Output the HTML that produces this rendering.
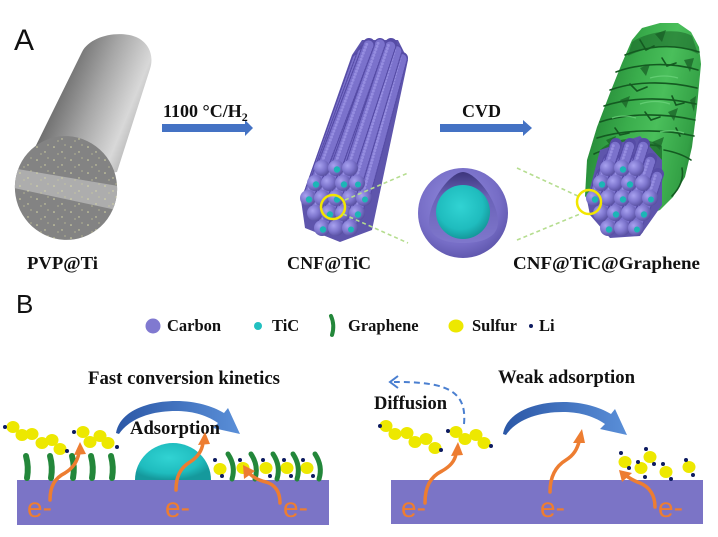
<!DOCTYPE html>
<html><head><meta charset="utf-8"><style>
html,body{margin:0;padding:0;background:#fff;}
svg{display:block;}
.t{font-family:"Liberation Serif",serif;font-weight:bold;fill:#111;}
.o{stroke:#564ca6;stroke-width:12;stroke-linecap:round;}
.d{stroke:#7b72cc;stroke-width:10;stroke-linecap:round;stroke-dasharray:0 3.2;}
.h{stroke:#958de0;stroke-width:3;stroke-linecap:round;stroke-dasharray:0 3.2;transform:translate(-1.8px,-1px);}
.e{font-family:"Liberation Sans",sans-serif;font-size:28px;fill:#ED7D31;}
.oa{fill:none;stroke:#ED7D31;stroke-width:3.5;stroke-linecap:round;}
.gs{fill:none;stroke:#23873a;stroke-width:6;stroke-linecap:round;}
.gr{fill:none;stroke:#23873a;stroke-width:5;stroke-linecap:round;}
.fl{fill:none;stroke:#145a21;stroke-width:1.6;stroke-linecap:round;}
</style></head><body>
<svg width="718" height="537" viewBox="0 0 718 537" xmlns="http://www.w3.org/2000/svg">
<defs>
<linearGradient id="gc" gradientUnits="userSpaceOnUse" x1="40" y1="105" x2="138" y2="145">
<stop offset="0" stop-color="#5e5e5e"/><stop offset="0.45" stop-color="#a6a6a6"/><stop offset="0.8" stop-color="#d8d8d8"/><stop offset="1" stop-color="#aaaaaa"/></linearGradient>
<clipPath id="ef"><ellipse cx="66" cy="188" rx="51" ry="52" transform="rotate(-20 66 188)"/></clipPath>
<pattern id="sp" width="17" height="13" patternUnits="userSpaceOnUse">
<circle cx="3" cy="4" r="0.8" fill="#d9d9a6"/><circle cx="11" cy="9" r="0.7" fill="#d9d9a6"/><circle cx="14" cy="2" r="0.6" fill="#cfcf9a"/><circle cx="7" cy="11" r="0.6" fill="#cfcf9a"/></pattern>
<radialGradient id="ps" cx="0.35" cy="0.35" r="0.7"><stop offset="0" stop-color="#a8a2f0"/><stop offset="0.55" stop-color="#7e76ce"/><stop offset="1" stop-color="#574fa0"/></radialGradient>
<radialGradient id="big" cx="0.45" cy="0.4" r="0.65"><stop offset="0" stop-color="#948de0"/><stop offset="0.7" stop-color="#766dc6"/><stop offset="1" stop-color="#5a52a8"/></radialGradient>
<radialGradient id="tl" cx="0.45" cy="0.4" r="0.6"><stop offset="0" stop-color="#31d3d3"/><stop offset="0.7" stop-color="#1fbcbe"/><stop offset="1" stop-color="#15999c"/></radialGradient>
<linearGradient id="cut" x1="0" y1="0" x2="0" y2="1"><stop offset="0" stop-color="#3d367c"/><stop offset="0.35" stop-color="#6a62b8"/><stop offset="1" stop-color="#7f77cc"/></linearGradient>
<linearGradient id="gg" gradientUnits="userSpaceOnUse" x1="588" y1="110" x2="702" y2="135">
<stop offset="0" stop-color="#238535"/><stop offset="0.35" stop-color="#3aad4c"/><stop offset="0.6" stop-color="#4abf5b"/><stop offset="0.9" stop-color="#33a045"/><stop offset="1" stop-color="#268034"/></linearGradient>
<linearGradient id="ba" x1="0" y1="0" x2="1" y2="0"><stop offset="0" stop-color="#2b57a6"/><stop offset="1" stop-color="#5a8fd8"/></linearGradient>
</defs>
<rect width="718" height="537" fill="#fff"/>

<!-- A -->
<text x="14" y="50" font-family="Liberation Sans, sans-serif" font-size="30" fill="#111">A</text>

<!-- Grey cylinder -->
<path d="M16,186 L82,52 C90,36 118,30 136,37 C150,43 154,57 150,69 L117,172 Z" fill="url(#gc)"/>
<g clip-path="url(#ef)">
<rect x="10" y="130" width="115" height="115" fill="#838383"/>
<polygon points="0,166 130,188 130,213 0,185" fill="#adadad"/>
<rect x="10" y="130" width="115" height="115" fill="url(#sp)"/>
</g>

<!-- top arrows -->
<rect x="162" y="124" width="84" height="8" fill="#4472c4"/>
<polygon points="245,120 253,128 245,136" fill="#4472c4"/>
<text class="t" x="163" y="117" font-size="18">1100 °C/H<tspan font-size="12" dy="4">2</tspan></text>
<rect x="440" y="124" width="84" height="8" fill="#4472c4"/>
<polygon points="523,120 532,128 523,136" fill="#4472c4"/>
<text class="t" x="462" y="117" font-size="18">CVD</text>

<!-- CNF bundle base -->
<polygon points="301,200 352,55 362,40 398,40 408,60 372,230 340,242 305,228" fill="#5e55ac"/>
<!-- CNF bundle bodies -->
<g>
<line class="o" x1="350" y1="228" x2="391" y2="72"/><line class="d" x1="350" y1="228" x2="391" y2="72"/><line class="h" x1="350" y1="228" x2="391" y2="72"/>
<line class="o" x1="336" y1="228" x2="380" y2="72"/><line class="d" x1="336" y1="228" x2="380" y2="72"/><line class="h" x1="336" y1="228" x2="380" y2="72"/>
<line class="o" x1="322" y1="228" x2="369" y2="72"/><line class="d" x1="322" y1="228" x2="369" y2="72"/><line class="h" x1="322" y1="228" x2="369" y2="72"/>
<line class="o" x1="357" y1="213" x2="396.5" y2="65"/><line class="d" x1="357" y1="213" x2="396.5" y2="65"/><line class="h" x1="357" y1="213" x2="396.5" y2="65"/>
<line class="o" x1="343" y1="213" x2="385.5" y2="65"/><line class="d" x1="343" y1="213" x2="385.5" y2="65"/><line class="h" x1="343" y1="213" x2="385.5" y2="65"/>
<line class="o" x1="329" y1="213" x2="374.5" y2="65"/><line class="d" x1="329" y1="213" x2="374.5" y2="65"/><line class="h" x1="329" y1="213" x2="374.5" y2="65"/>
<line class="o" x1="315" y1="213" x2="363.5" y2="65"/><line class="d" x1="315" y1="213" x2="363.5" y2="65"/><line class="h" x1="315" y1="213" x2="363.5" y2="65"/>
<line class="o" x1="364" y1="198" x2="402" y2="58"/><line class="d" x1="364" y1="198" x2="402" y2="58"/><line class="h" x1="364" y1="198" x2="402" y2="58"/>
<line class="o" x1="350" y1="198" x2="391" y2="58"/><line class="d" x1="350" y1="198" x2="391" y2="58"/><line class="h" x1="350" y1="198" x2="391" y2="58"/>
<line class="o" x1="336" y1="198" x2="380" y2="58"/><line class="d" x1="336" y1="198" x2="380" y2="58"/><line class="h" x1="336" y1="198" x2="380" y2="58"/>
<line class="o" x1="322" y1="198" x2="369" y2="58"/><line class="d" x1="322" y1="198" x2="369" y2="58"/><line class="h" x1="322" y1="198" x2="369" y2="58"/>
<line class="o" x1="308" y1="198" x2="358" y2="58"/><line class="d" x1="308" y1="198" x2="358" y2="58"/><line class="h" x1="308" y1="198" x2="358" y2="58"/>
<line class="o" x1="357" y1="183" x2="396.5" y2="51"/><line class="d" x1="357" y1="183" x2="396.5" y2="51"/><line class="h" x1="357" y1="183" x2="396.5" y2="51"/>
<line class="o" x1="343" y1="183" x2="385.5" y2="51"/><line class="d" x1="343" y1="183" x2="385.5" y2="51"/><line class="h" x1="343" y1="183" x2="385.5" y2="51"/>
<line class="o" x1="329" y1="183" x2="374.5" y2="51"/><line class="d" x1="329" y1="183" x2="374.5" y2="51"/><line class="h" x1="329" y1="183" x2="374.5" y2="51"/>
<line class="o" x1="315" y1="183" x2="363.5" y2="51"/><line class="d" x1="315" y1="183" x2="363.5" y2="51"/><line class="h" x1="315" y1="183" x2="363.5" y2="51"/>
<line class="o" x1="350" y1="168" x2="391" y2="44"/><line class="d" x1="350" y1="168" x2="391" y2="44"/><line class="h" x1="350" y1="168" x2="391" y2="44"/>
<line class="o" x1="336" y1="168" x2="380" y2="44"/><line class="d" x1="336" y1="168" x2="380" y2="44"/><line class="h" x1="336" y1="168" x2="380" y2="44"/>
<line class="o" x1="322" y1="168" x2="369" y2="44"/><line class="d" x1="322" y1="168" x2="369" y2="44"/><line class="h" x1="322" y1="168" x2="369" y2="44"/>
</g>
<!-- CNF end spheres -->
<g fill="url(#ps)">
<circle cx="322" cy="168" r="8"/><circle cx="336" cy="168" r="8"/><circle cx="350" cy="168" r="8"/>
<circle cx="315" cy="183" r="8"/><circle cx="329" cy="183" r="8"/><circle cx="343" cy="183" r="8"/><circle cx="357" cy="183" r="8"/>
<circle cx="308" cy="198" r="8"/><circle cx="322" cy="198" r="8"/><circle cx="336" cy="198" r="8"/><circle cx="350" cy="198" r="8"/><circle cx="364" cy="198" r="8"/>
<circle cx="315" cy="213" r="8"/><circle cx="329" cy="213" r="8"/><circle cx="343" cy="213" r="8"/><circle cx="357" cy="213" r="8"/>
<circle cx="322" cy="228" r="8"/><circle cx="336" cy="228" r="8"/><circle cx="350" cy="228" r="8"/>
</g>
<g fill="#1cb5b6">
<circle cx="337" cy="169.5" r="3.2"/><circle cx="316" cy="184.5" r="3.2"/><circle cx="344" cy="184.5" r="3.2"/><circle cx="358" cy="184.5" r="3"/>
<circle cx="309" cy="199.5" r="3.2"/><circle cx="337" cy="199.5" r="3.2"/><circle cx="365" cy="199.5" r="3"/>
<circle cx="330" cy="214.5" r="3.2"/><circle cx="358" cy="214.5" r="3.2"/><circle cx="323" cy="229.5" r="3.2"/><circle cx="351" cy="229.5" r="3"/>
</g>
<circle cx="333" cy="207" r="12" fill="none" stroke="#f2e600" stroke-width="2.5"/>

<!-- green dashed zoom lines -->
<g stroke="#b5dd8f" stroke-width="1.6" stroke-dasharray="4 3" fill="none">
<line x1="345" y1="200" x2="408" y2="173"/><line x1="343" y1="214" x2="408" y2="243"/>
<line x1="517" y1="168" x2="580" y2="197"/><line x1="517" y1="240" x2="580" y2="214"/>
</g>

<!-- Cross-section sphere -->
<circle cx="463" cy="213" r="45" fill="url(#big)"/>
<path d="M463,172 C475,172 498,200 498,222 C498,238 481,243 463,243 C445,243 429,238 429,222 C429,200 451,172 463,172 Z" fill="url(#cut)"/>
<circle cx="463" cy="212" r="27" fill="url(#tl)"/>

<!-- Graphene cylinder -->
<path d="M585,196 L587,160 L597,127 L610,93 L622,63 L632,40 L642,28 L660,23 L678,23 L691,32 L699,47 L701,64 L697,107 L692,147 L685,177 L673,197 L660,210 L640,218 L600,218 Z" fill="url(#gg)"/>
<path d="M632,42 C650,30 680,28 692,36 L698,54 C680,44 652,44 628,56 Z" fill="#1a6428" opacity="0.55"/>
<g class="fl">
<path d="M625,55 C650,45 675,44 699,52"/><path d="M616,72 C640,63 672,62 698,70"/><path d="M610,90 C632,82 664,80 697,88"/>
<path d="M604,106 C628,98 662,96 696,104"/><path d="M600,122 C624,114 660,112 695,120"/><path d="M597,138 C622,130 660,128 694,136"/>
<path d="M594,154 C610,146 640,143 660,146"/><path d="M664,150 C675,152 685,156 691,160"/>
<path d="M640,40 l6,10 l8,-4"/><path d="M662,58 l5,8 l9,-3"/><path d="M630,84 l7,7 l10,-4"/><path d="M672,96 l4,9 l8,-2"/>
<path d="M645,112 l6,8 l9,-3"/><path d="M615,128 l5,7 l9,-2"/><path d="M676,128 l4,8"/><path d="M682,168 C684,178 680,188 672,196"/>
</g>
<g fill="#175c24" opacity="0.7">
<polygon points="655,34 666,30 662,42"/><polygon points="684,60 694,58 690,72"/><polygon points="640,68 650,64 646,76"/>
<polygon points="620,100 630,96 626,108"/><polygon points="668,112 678,108 674,121"/><polygon points="652,142 664,137 660,150"/>
<polygon points="690,100 696,96 694,112"/><polygon points="606,140 616,136 612,148"/>
</g>
<g fill="none" stroke="#6ad37a" stroke-width="1.2" opacity="0.8">
<path d="M640,104 q15,-5 30,0"/><path d="M612,118 q12,-4 24,0"/><path d="M650,78 q14,-4 28,0"/><path d="M660,132 q12,-3 24,1"/>
</g>
<path d="M600,150 C612,138 640,134 662,146 L662,160 L600,166 Z" fill="#1a6428" opacity="0.7"/>

<!-- graphene purple end strands -->
<polygon points="587,200 600,150 640,136 662,160 662,205 640,236 610,238 590,215" fill="#5e55ac"/>
<g>
<line class="o" x1="636" y1="228" x2="644" y2="204"/><line class="d" x1="636" y1="228" x2="644" y2="204"/>
<line class="o" x1="622" y1="228" x2="630" y2="204"/><line class="d" x1="622" y1="228" x2="630" y2="204"/>
<line class="o" x1="608" y1="228" x2="616" y2="204"/><line class="d" x1="608" y1="228" x2="616" y2="204"/>
<line class="o" x1="643" y1="213" x2="651" y2="189"/><line class="d" x1="643" y1="213" x2="651" y2="189"/>
<line class="o" x1="629" y1="213" x2="637" y2="189"/><line class="d" x1="629" y1="213" x2="637" y2="189"/>
<line class="o" x1="615" y1="213" x2="623" y2="189"/><line class="d" x1="615" y1="213" x2="623" y2="189"/>
<line class="o" x1="601" y1="213" x2="609" y2="189"/><line class="d" x1="601" y1="213" x2="609" y2="189"/>
<line class="o" x1="650" y1="198" x2="658" y2="174"/><line class="d" x1="650" y1="198" x2="658" y2="174"/><line class="h" x1="650" y1="198" x2="658" y2="174"/>
<line class="o" x1="636" y1="198" x2="644" y2="174"/><line class="d" x1="636" y1="198" x2="644" y2="174"/><line class="h" x1="636" y1="198" x2="644" y2="174"/>
<line class="o" x1="622" y1="198" x2="630" y2="174"/><line class="d" x1="622" y1="198" x2="630" y2="174"/><line class="h" x1="622" y1="198" x2="630" y2="174"/>
<line class="o" x1="608" y1="198" x2="616" y2="174"/><line class="d" x1="608" y1="198" x2="616" y2="174"/><line class="h" x1="608" y1="198" x2="616" y2="174"/>
<line class="o" x1="594" y1="198" x2="602" y2="174"/><line class="d" x1="594" y1="198" x2="602" y2="174"/><line class="h" x1="594" y1="198" x2="602" y2="174"/>
<line class="o" x1="643" y1="183" x2="651" y2="159"/><line class="d" x1="643" y1="183" x2="651" y2="159"/><line class="h" x1="643" y1="183" x2="651" y2="159"/>
<line class="o" x1="629" y1="183" x2="637" y2="159"/><line class="d" x1="629" y1="183" x2="637" y2="159"/><line class="h" x1="629" y1="183" x2="637" y2="159"/>
<line class="o" x1="615" y1="183" x2="623" y2="159"/><line class="d" x1="615" y1="183" x2="623" y2="159"/><line class="h" x1="615" y1="183" x2="623" y2="159"/>
<line class="o" x1="601" y1="183" x2="609" y2="159"/><line class="d" x1="601" y1="183" x2="609" y2="159"/><line class="h" x1="601" y1="183" x2="609" y2="159"/>
<line class="o" x1="636" y1="168" x2="644" y2="144"/><line class="d" x1="636" y1="168" x2="644" y2="144"/><line class="h" x1="636" y1="168" x2="644" y2="144"/>
<line class="o" x1="622" y1="168" x2="630" y2="144"/><line class="d" x1="622" y1="168" x2="630" y2="144"/><line class="h" x1="622" y1="168" x2="630" y2="144"/>
<line class="o" x1="608" y1="168" x2="616" y2="144"/><line class="d" x1="608" y1="168" x2="616" y2="144"/><line class="h" x1="608" y1="168" x2="616" y2="144"/>
</g>
<g fill="url(#ps)">
<circle cx="608" cy="168" r="8"/><circle cx="622" cy="168" r="8"/><circle cx="636" cy="168" r="8"/>
<circle cx="601" cy="183" r="8"/><circle cx="615" cy="183" r="8"/><circle cx="629" cy="183" r="8"/><circle cx="643" cy="183" r="8"/>
<circle cx="594" cy="198" r="8"/><circle cx="608" cy="198" r="8"/><circle cx="622" cy="198" r="8"/><circle cx="636" cy="198" r="8"/><circle cx="650" cy="198" r="8"/>
<circle cx="601" cy="213" r="8"/><circle cx="615" cy="213" r="8"/><circle cx="629" cy="213" r="8"/><circle cx="643" cy="213" r="8"/>
<circle cx="608" cy="228" r="8"/><circle cx="622" cy="228" r="8"/><circle cx="636" cy="228" r="8"/>
</g>
<g fill="#1cb5b6">
<circle cx="623" cy="169.5" r="3.2"/><circle cx="602" cy="184.5" r="3.2"/><circle cx="630" cy="184.5" r="3.2"/>
<circle cx="595" cy="199.5" r="3.2"/><circle cx="623" cy="199.5" r="3.2"/><circle cx="651" cy="199.5" r="3"/>
<circle cx="616" cy="214.5" r="3.2"/><circle cx="644" cy="214.5" r="3.2"/><circle cx="609" cy="229.5" r="3.2"/><circle cx="637" cy="229.5" r="3"/>
</g>
<circle cx="589" cy="202" r="12" fill="none" stroke="#f2e600" stroke-width="2.5"/>

<!-- labels row -->
<text class="t" x="27" y="269" font-size="18" textLength="71" lengthAdjust="spacingAndGlyphs">PVP@Ti</text>
<text class="t" x="287" y="269" font-size="18" textLength="84" lengthAdjust="spacingAndGlyphs">CNF@TiC</text>
<text class="t" x="513" y="269" font-size="18" textLength="187" lengthAdjust="spacingAndGlyphs">CNF@TiC@Graphene</text>

<!-- B -->
<text x="16" y="313" font-family="Liberation Sans, sans-serif" font-size="26" fill="#111">B</text>

<!-- legend -->
<circle cx="153" cy="326" r="7.5" fill="#8079d0"/>
<text class="t" x="167" y="331" font-size="16.5">Carbon</text>
<circle cx="258" cy="326" r="4" fill="#22c0c0"/>
<text class="t" x="272" y="331" font-size="16.5">TiC</text>
<path d="M331,316 Q335,325 332,335" fill="none" stroke="#23873a" stroke-width="4" stroke-linecap="round"/>
<text class="t" x="348" y="331" font-size="16.5">Graphene</text>
<ellipse cx="456" cy="326" rx="7.5" ry="6.5" fill="#ede800"/>
<text class="t" x="472" y="331" font-size="16.5">Sulfur</text>
<circle cx="531" cy="326" r="2" fill="#0d1b60"/>
<text class="t" x="539" y="331" font-size="16.5">Li</text>

<!-- Left panel -->
<text class="t" x="88" y="384" font-size="19" textLength="192" lengthAdjust="spacingAndGlyphs">Fast conversion kinetics</text>
<path d="M116,433 C120,410 150,401 176,401 C196,401 212,406 224,413 L228,408 L240,434 L213,428 L218,423 C205,414 190,411 176,411 C152,411 130,418 119,434 Z" fill="url(#ba)"/>
<text class="t" x="130" y="434" font-size="18.5" textLength="90" lengthAdjust="spacingAndGlyphs">Adsorption</text>
<path d="M135,480 A38,37 0 0 1 211,480 Z" fill="url(#tl)"/>
<rect x="17" y="480" width="312" height="45" fill="#7b74c6"/>
<path class="gs" d="M26,456 Q29,467 27,478"/><path class="gs" d="M50,456 Q53,467 51,478"/><path class="gs" d="M72,456 Q75,467 73,478"/><path class="gs" d="M91,456 Q94,467 92,478"/><path class="gs" d="M111,456 Q114,467 112,478"/>
<g fill="#ede800">
<ellipse cx="13" cy="427" rx="6.5" ry="6"/><ellipse cx="22" cy="435" rx="6.5" ry="6"/><ellipse cx="32" cy="434" rx="6.5" ry="6"/><ellipse cx="42" cy="443" rx="6.5" ry="6"/><ellipse cx="52" cy="440" rx="6.5" ry="6"/><ellipse cx="60" cy="449" rx="6.5" ry="6"/>
<ellipse cx="83" cy="432" rx="6.5" ry="6"/><ellipse cx="90" cy="442" rx="6.5" ry="6"/><ellipse cx="100" cy="436" rx="6.5" ry="6"/><ellipse cx="108" cy="443" rx="6.5" ry="6"/>
<ellipse cx="220" cy="469" rx="6.5" ry="6"/><ellipse cx="243" cy="468" rx="6.5" ry="6"/><ellipse cx="266" cy="468" rx="6.5" ry="6"/><ellipse cx="287" cy="468" rx="6.5" ry="6"/><ellipse cx="307" cy="468" rx="6.5" ry="6"/>
</g>
<path class="gr" d="M228,454 Q236,466 232,479"/><path class="gr" d="M251,454 Q259,466 255,479"/><path class="gr" d="M273,454 Q281,466 277,479"/><path class="gr" d="M293,454 Q301,466 297,479"/><path class="gr" d="M315,454 Q323,466 319,479"/>
<g fill="#0d1b60">
<circle cx="5" cy="427" r="2"/><circle cx="67" cy="451" r="2"/><circle cx="74" cy="432" r="2"/><circle cx="117" cy="447" r="2"/>
<circle cx="215" cy="460" r="2"/><circle cx="222" cy="476" r="2"/><circle cx="240" cy="460" r="2"/><circle cx="263" cy="460" r="2"/><circle cx="270" cy="476" r="2"/>
<circle cx="284" cy="460" r="2"/><circle cx="291" cy="476" r="2"/><circle cx="303" cy="460" r="2"/><circle cx="313" cy="476" r="2"/>
</g>
<path class="oa" d="M50,500 C50,486 55,478 65,473 C73,468 77,462 79,453"/><polygon points="80,442 74,455 86,454" fill="#ED7D31"/>
<path class="oa" d="M176,490 C176,477 180,468 190,462 C198,457 202,450 203,443"/><polygon points="205,432 198,445 210,444" fill="#ED7D31"/>
<path class="oa" d="M280,503 C280,493 276,485 266,482 C258,480 253,477 250,474"/><polygon points="243,465 244,479 255,471" fill="#ED7D31"/>
<text class="e" x="27" y="517">e-</text><text class="e" x="165" y="517">e-</text><text class="e" x="283" y="517">e-</text>

<!-- Right panel -->
<text class="t" x="498" y="383" font-size="18.5" textLength="137" lengthAdjust="spacingAndGlyphs">Weak adsorption</text>
<text class="t" x="374" y="409" font-size="18.5" textLength="73" lengthAdjust="spacingAndGlyphs">Diffusion</text>
<path d="M464,424 C466,402 458,390 435,385 C420,382 405,382 394,382" fill="none" stroke="#4a7fd0" stroke-width="2" stroke-dasharray="6 4"/>
<polyline points="398,376 390,382 398,388" fill="none" stroke="#4a7fd0" stroke-width="2"/>
<g transform="translate(387,1)"><path d="M116,433 C120,410 150,401 176,401 C196,401 212,406 224,413 L228,408 L240,434 L213,428 L218,423 C205,414 190,411 176,411 C152,411 130,418 119,434 Z" fill="url(#ba)"/></g>
<rect x="391" y="480" width="312" height="44" fill="#7b74c6"/>
<g fill="#ede800">
<ellipse cx="386" cy="426" rx="6.5" ry="6"/><ellipse cx="395" cy="434" rx="6.5" ry="6"/><ellipse cx="407" cy="433" rx="6.5" ry="6"/><ellipse cx="415" cy="442" rx="6.5" ry="6"/><ellipse cx="426" cy="439" rx="6.5" ry="6"/><ellipse cx="435" cy="448" rx="6.5" ry="6"/>
<ellipse cx="456" cy="432" rx="6.5" ry="6"/><ellipse cx="465" cy="439" rx="6.5" ry="6"/><ellipse cx="476" cy="435" rx="6.5" ry="6"/><ellipse cx="484" cy="443" rx="6.5" ry="6"/>
<ellipse cx="625" cy="462" rx="6.5" ry="6"/><ellipse cx="641" cy="468" rx="6.5" ry="6"/><ellipse cx="650" cy="457" rx="6.5" ry="6"/><ellipse cx="666" cy="472" rx="6.5" ry="6"/><ellipse cx="689" cy="467" rx="6.5" ry="6"/>
</g>
<g fill="#0d1b60">
<circle cx="380" cy="426" r="2"/><circle cx="441" cy="450" r="2"/><circle cx="448" cy="431" r="2"/><circle cx="491" cy="446" r="2"/>
<circle cx="621" cy="453" r="2"/><circle cx="629" cy="468" r="2"/><circle cx="638" cy="462" r="2"/><circle cx="646" cy="449" r="2"/><circle cx="654" cy="464" r="2"/>
<circle cx="645" cy="477" r="2"/><circle cx="663" cy="464" r="2"/><circle cx="671" cy="479" r="2"/><circle cx="686" cy="460" r="2"/><circle cx="693" cy="475" r="2"/>
</g>
<path class="oa" d="M425,503 C425,487 430,477 442,471 C451,466 455,460 456,454"/><polygon points="458,442 451,456 463,455" fill="#ED7D31"/>
<path class="oa" d="M550,492 C550,476 556,466 566,460 C574,455 577,449 579,442"/><polygon points="582,429 573,443 585,443" fill="#ED7D31"/>
<path class="oa" d="M655,507 C655,496 650,487 640,483 C634,481 631,479 628,477"/><polygon points="619,470 622,482 632,473" fill="#ED7D31"/>
<text class="e" x="401" y="517">e-</text><text class="e" x="540" y="517">e-</text><text class="e" x="658" y="517">e-</text>
</svg>
</body></html>
